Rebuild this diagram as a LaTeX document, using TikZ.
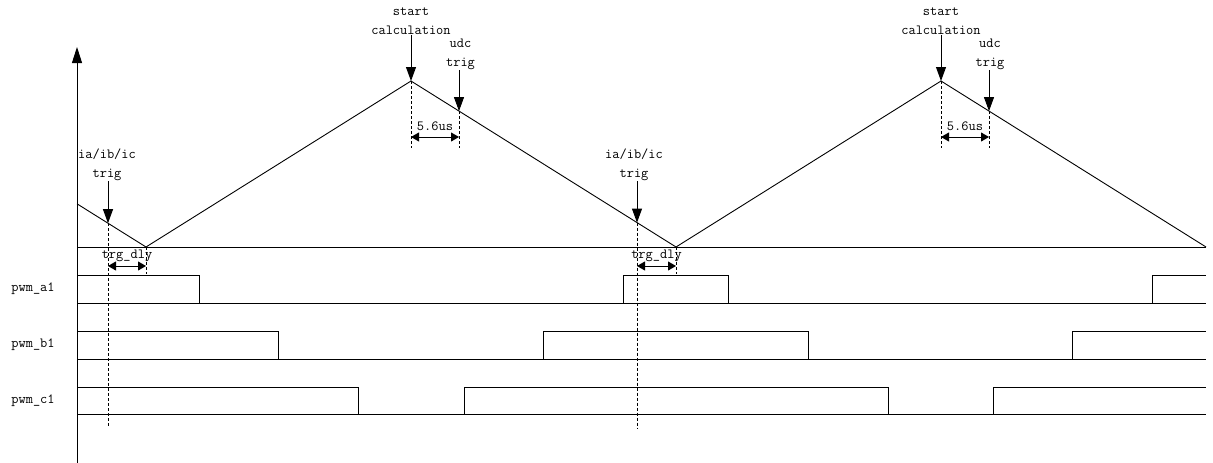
\documentclass[tikz,border=0pt]{standalone}
\usepackage{fontspec}
\usetikzlibrary{arrows.meta}
\begin{document}
\begin{tikzpicture}[x=1pt,y=-1pt,
  wave/.style={line width=0.9pt, line join=miter},
  guide/.style={line width=0.8pt, dash pattern=on 3pt off 2pt},
  trigarrow/.style={line width=0.9pt, -{Triangle[length=14pt,width=10pt]}},
  dimarrow/.style={line width=0.9pt, {Triangle[length=8pt,width=9pt]}-{Triangle[length=8pt,width=9pt]}},
  lbl/.style={font=\fontsize{14}{19}\selectfont\ttfamily, inner sep=0pt, align=center},
]
\useasboundingbox (0,0) rectangle (1213,463);
% axis
\coordinate (ax0) at (77,463);
\coordinate (ax1) at (77,47);
\draw[line width=0.9pt, -{Triangle[length=16pt,width=10pt]}] (ax0) -- (ax1);
% baseline of the carrier
\coordinate (bl0) at (77,247);
\coordinate (bl1) at (1206,247);
\draw[wave] (bl0) -- (bl1);
% carrier triangle
\coordinate (s0) at (77,203.8);
\coordinate (v1) at (146,247);
\coordinate (p1) at (411,81);
\coordinate (v2) at (676,247);
\coordinate (p2) at (941,81);
\coordinate (v3) at (1206,247);
\draw[wave] (s0) -- (v1) -- (p1) -- (v2) -- (p2) -- (v3);
% trigger points
\coordinate (t1) at (108,223.2);
\coordinate (t2) at (637,222.6);
\coordinate (u1) at (459,111.1);
\coordinate (u2) at (989,111.1);
% labels
\node[lbl, anchor=south] (lt1) at (107,181) {ia/ib/ic\\trig};
\node[lbl, anchor=south] (lt2) at (634,181) {ia/ib/ic\\trig};
\node[lbl, anchor=south] (ls1) at (411,35) {start\\calculation};
\node[lbl, anchor=south] (ls2) at (941,35) {start\\calculation};
\node[lbl, anchor=south] (lu1) at (460.5,70) {udc\\trig};
\node[lbl, anchor=south] (lu2) at (990,70) {udc\\trig};
% trigger arrows
\draw[trigarrow] (lt1.south -| t1) -- (t1);
\draw[trigarrow] (lt2.south -| t2) -- (t2);
\draw[trigarrow] (ls1.south -| p1) -- (p1);
\draw[trigarrow] (ls2.south -| p2) -- (p2);
\draw[trigarrow] (lu1.south -| u1) -- (u1);
\draw[trigarrow] (lu2.south -| u2) -- (u2);
% dashed guides
\coordinate (t1e) at (108,428);
\coordinate (t2e) at (637,428);
\coordinate (v1e) at (146,274);
\coordinate (v2e) at (676,274);
\coordinate (p1e) at (411,148);
\coordinate (p2e) at (941,148);
\coordinate (u1e) at (459,148);
\coordinate (u2e) at (989,148);
\draw[guide] (t1) -- (t1e);
\draw[guide] (t2) -- (t2e);
\draw[guide] (v1) -- (v1e);
\draw[guide] (v2) -- (v2e);
\draw[guide] (p1) -- (p1e);
\draw[guide] (p2) -- (p2e);
\draw[guide] (u1) -- (u1e);
\draw[guide] (u2) -- (u2e);
% dimension arrows
\coordinate (d1a) at (108,266); \coordinate (d1b) at (146,266);
\coordinate (d2a) at (637,266); \coordinate (d2b) at (676,266);
\coordinate (e1a) at (411,137); \coordinate (e1b) at (459,137);
\coordinate (e2a) at (941,137); \coordinate (e2b) at (989,137);
\draw[dimarrow] (d1a) -- (d1b);
\draw[dimarrow] (d2a) -- (d2b);
\draw[dimarrow] (e1a) -- (e1b);
\draw[dimarrow] (e2a) -- (e2b);
\node[lbl, anchor=base] (ld1) at (127,258.5) {trg\_dly};
\node[lbl, anchor=base] (ld2) at (656.5,258.5) {trg\_dly};
\node[lbl, anchor=base] (le1) at (435,130) {5.6us};
\node[lbl, anchor=base] (le2) at (965,130) {5.6us};
% PWM labels
\node[lbl] (na) at (33,289) {pwm\_a1};
\node[lbl] (nb) at (33,345) {pwm\_b1};
\node[lbl] (nc) at (33,401) {pwm\_c1};
% PWM baselines
\draw[wave] (77,303) -- (1206,303);
\draw[wave] (77,359) -- (1206,359);
\draw[wave] (77,414.5) -- (1206,414.5);
% PWM waveforms
\draw[wave] (77,275) -- (199,275) -- (199,303) -- (623,303) -- (623,275) -- (728.5,275) -- (728.5,303) -- (1152,303) -- (1152,275) -- (1206,275);
\draw[wave] (77,331) -- (278.5,331) -- (278.5,359) -- (543.5,359) -- (543.5,331) -- (808,331) -- (808,359) -- (1072.5,359) -- (1072.5,331) -- (1206,331);
\draw[wave] (77,387) -- (358,387) -- (358,414.5) -- (464,414.5) -- (464,387) -- (888,387) -- (888,414.5) -- (993,414.5) -- (993,387) -- (1206,387);
\end{tikzpicture}
\end{document}
